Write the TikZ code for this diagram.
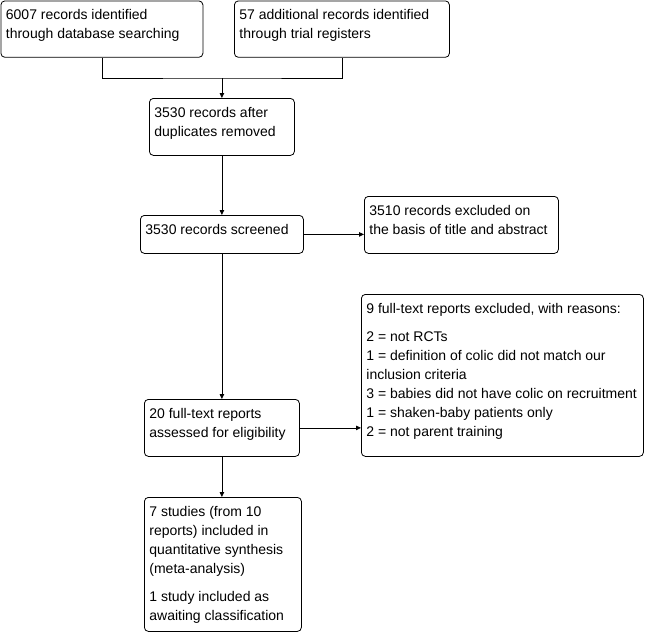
\documentclass[tikz,border=0pt]{standalone}
\usepackage{fontspec}
\setmainfont{Liberation Sans}
\usetikzlibrary{arrows.meta, calc, positioning}

% text of a box: width, height, lines (top left)
\newcommand{\boxText}[3]{\parbox[c][#2][t]{#1}{\raggedright\strut #3}}

\tikzset{
    flowBox/.style={draw, line width=0.8pt, rounded corners=4pt, inner xsep=5pt, inner ysep=5.7pt, anchor=north west},
    flowLine/.style={draw, line width=0.8pt},
    flowArrow/.style={flowLine, -{Triangle[length=5pt, width=4.5pt]}}
}

\begin{document}
\begin{tikzpicture}[x=1pt, y=-1pt, font=\fontsize{14}{19}\selectfont]%
    \useasboundingbox (0,0) rectangle (646,641);
    % identification
    \node (dbRec) [flowBox] at (0.5,0.5) {\boxText{192pt}{45pt}{6007 records identified\\through database searching}};
    \node (regRec) [flowBox] at (234,0.5) {\boxText{205pt}{45pt}{57 additional records identified\\through trial registers}};
    \node (dupRem) [flowBox] at (149,98) {\boxText{135pt}{45.6pt}{3530 records after\\duplicates removed}};
    % screening
    \node (screened) [flowBox] at (140,215) {\boxText{153pt}{26.6pt}{3530 records screened}};
    \node (exclTA) [flowBox] at (364,196) {\boxText{184pt}{45.6pt}{3510 records excluded on\\the basis of title and abstract}};
    % eligibility
    \node (fullText) [flowBox] at (144,399) {\boxText{145pt}{45.6pt}{20 full-text reports\\assessed for eligibility}};
    \node (exclFT) [flowBox] at (361,294) {\boxText{272pt}{150.6pt}{9 full-text reports excluded, with reasons:\\[9pt]
        2 = not RCTs\\
        1 = definition of colic did not match our\\
        inclusion criteria\\
        3 = babies did not have colic on recruitment\\
        1 = shaken-baby patients only\\
        2 = not parent training}};
    % included
    \node (included) [flowBox] at (144,497) {\boxText{147pt}{122.6pt}{7 studies (from 10\\reports) included in\\quantitative synthesis\\(meta-analysis)\\[9pt]
        1 study included as\\awaiting classification}};

    \coordinate (merge) at ($(dupRem.north)+(0,-20)$);
    \draw [flowLine] (dbRec.south) |- (merge) -| (regRec.south);
    \draw [flowArrow] (merge) -- (dupRem.north);
    \draw [flowArrow] (dupRem.south) -- (screened.north);
    \draw [flowArrow] (screened.east) -- (screened.east -| exclTA.west);
    \draw [flowArrow] (screened.south) -- (fullText.north);
    \draw [flowArrow] (fullText.east) -- (fullText.east -| exclFT.west);
    \draw [flowArrow] (fullText.south) -- (fullText.south |- included.north);
\end{tikzpicture}
\end{document}
